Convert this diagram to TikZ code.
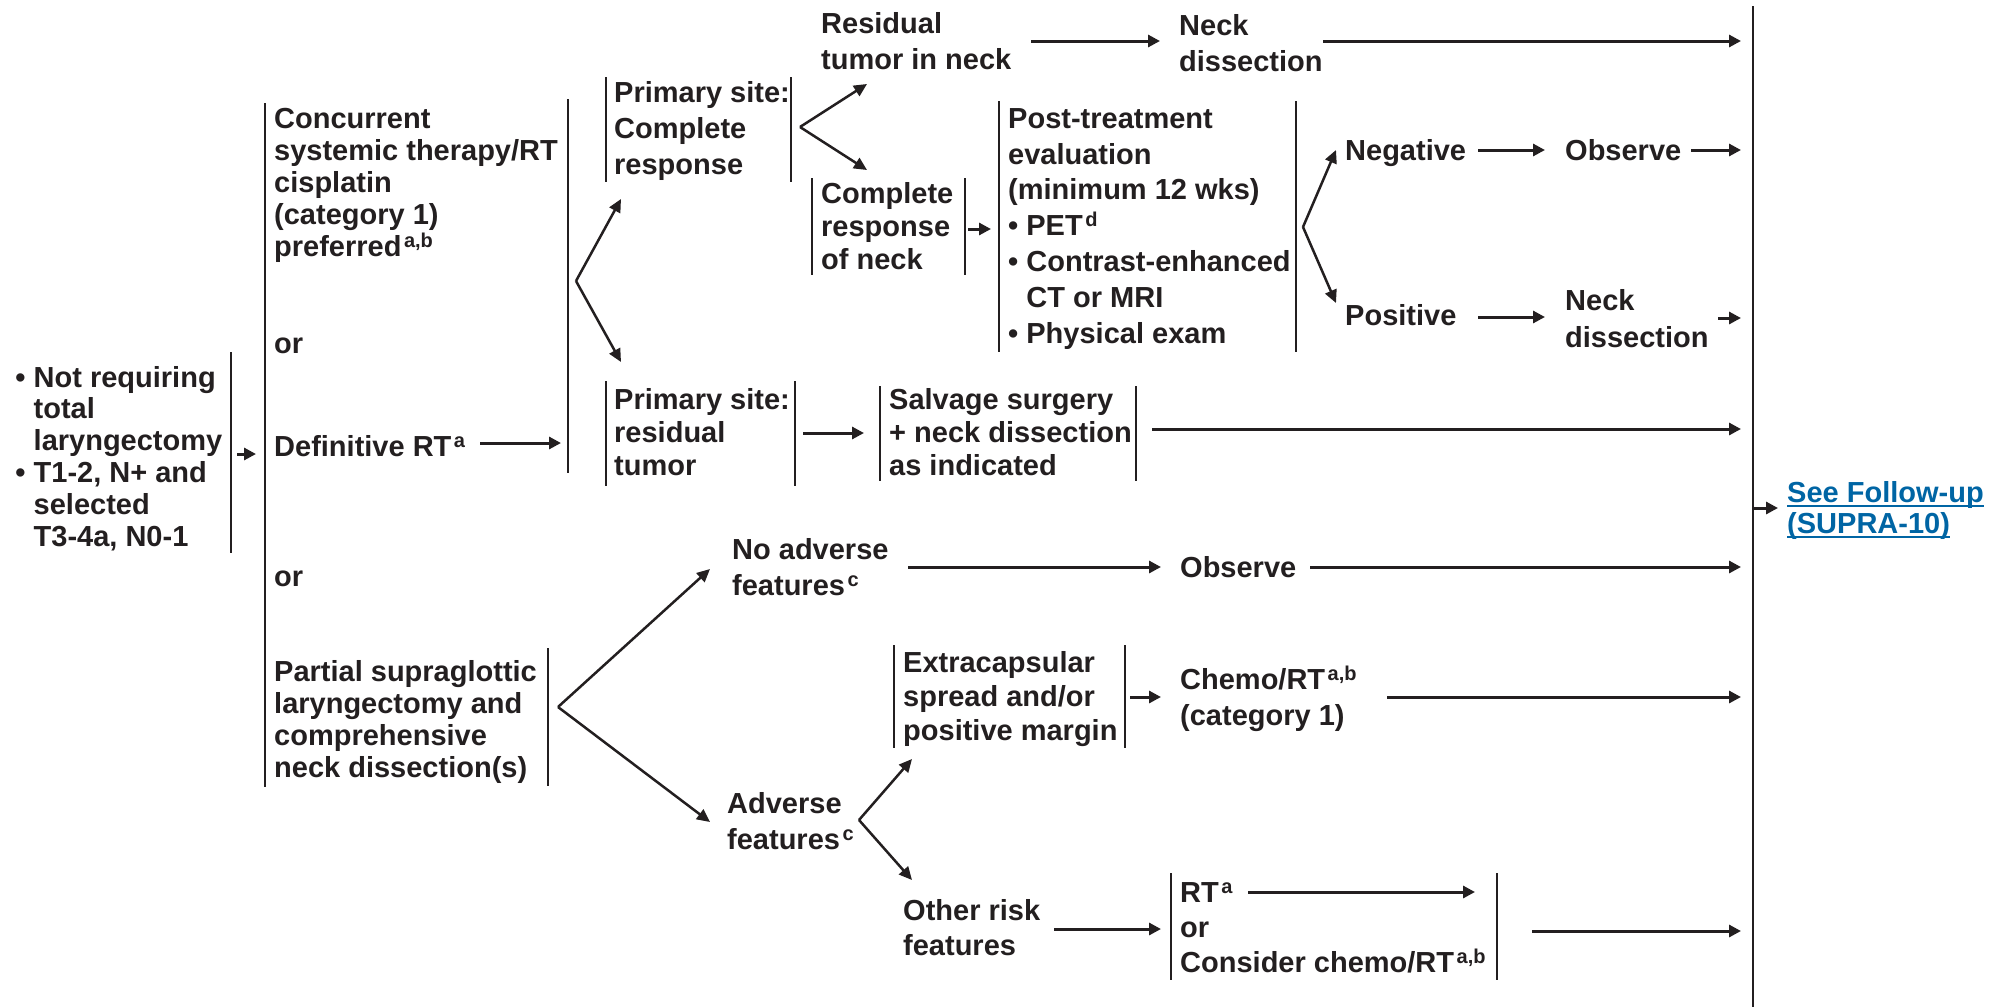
\documentclass[tikz,border=0pt]{standalone}
\usepackage{fontspec}
\setmainfont{Liberation Sans}
\usetikzlibrary{arrows.meta}
\definecolor{ink}{RGB}{35,31,32}
\definecolor{link}{RGB}{0,101,164}
% superscript footnote letters
\newcommand\sps[1]{\hspace{2.5pt}\raisebox{9pt}{\fontsize{20}{20}\selectfont #1}}
% underlined link line
\newsavebox\ulbox
\newcommand\lnk[1]{\sbox\ulbox{#1}\rlap{\rule[-5pt]{\wd\ulbox}{2.3pt}}\usebox\ulbox}
% multi-line labels are placed by the baseline of their last line
\tikzset{
  lbl/.style={font=\bfseries\fontsize{29}{#1}\selectfont, text=ink, align=left,
              inner sep=0pt, anchor=base west},
  lbl/.default=32,
  bar/.style={draw=ink, line width=2.5pt},
  arr/.style={draw=ink, line width=3pt, -{Triangle[length=12pt,width=12pt]}},
  fork/.style={draw=ink, line width=2.5pt, -{Triangle[length=13pt,width=12pt]}},
}
\begin{document}
\begin{tikzpicture}[x=1pt,y=-1pt]
\useasboundingbox (0,0) rectangle (2003,1007);

% ---------- text ----------
\node[lbl=31.8] (start) at (33.5,546) {\llap{• }Not requiring\\total\\laryngectomy\\\llap{• }T1-2, N+ and\\selected\\T3-4a, N0-1};

\node[lbl=32] (conc) at (274,256) {Concurrent\\systemic therapy/RT\\cisplatin\\(category 1)\\preferred\sps{a,b}};
\node[lbl] (or1) at (274,353) {or};
\node[lbl] (defrt) at (274,456) {Definitive RT\sps{a}};
\node[lbl] (or2) at (274,586) {or};
\node[lbl=31.7] (partial) at (274,777) {Partial supraglottic\\laryngectomy and\\comprehensive\\neck dissection(s)};

\node[lbl=36] (ps1) at (614,174) {Primary site:\\Complete\\response};
\node[lbl=36] (resid) at (821,69) {Residual\\tumor in neck};
\node[lbl=36] (nd1) at (1179,71) {Neck\\dissection};
\node[lbl=33] (crneck) at (821,269) {Complete\\response\\of neck};
\node[lbl=35.8] (post) at (1008,343) {Post-treatment\\evaluation\\(minimum 12 wks)\\• PET\sps{d}\\• Contrast-enhanced\\\phantom{• }CT or MRI\\• Physical exam};
\node[lbl] (neg) at (1345,160) {Negative};
\node[lbl] (obs1) at (1565,160) {Observe};
\node[lbl] (pos) at (1345,325) {Positive};
\node[lbl=37] (nd2) at (1565,347) {Neck\\dissection};

\node[lbl=33] (ps2) at (614,475) {Primary site:\\residual\\tumor};
\node[lbl=33] (salv) at (889,475) {Salvage surgery\\+ neck dissection\\as indicated};

\node[lbl=36] (noadv) at (732,595) {No adverse\\features\sps{c}};
\node[lbl] (obs2) at (1180,577) {Observe};
\node[lbl=36] (adv) at (727,849) {Adverse\\features\sps{c}};
\node[lbl=34] (extra) at (903,740) {Extracapsular\\spread and/or\\positive margin};
\node[lbl=36] (chemo) at (1180,725) {Chemo/RT\sps{a,b}\\(category 1)};
\node[lbl=35] (other) at (903,955) {Other risk\\features};
\node[lbl=35] (rtbox) at (1180,972) {RT\sps{a}\\or\\Consider chemo/RT\sps{a,b}};

\node[lbl=31, text=link] (follow) at (1787,533) {\lnk{See Follow-up}\\\lnk{(SUPRA-10)}};

% ---------- bracket bars ----------
\draw[bar] (231,352) -- (231,553);
\draw[bar] (265,103) -- (265,787);
\draw[bar] (568,99) -- (568,473);
\draw[bar] (606,77) -- (606,182);
\draw[bar] (791,77) -- (791,182);
\draw[bar] (812,178) -- (812,275);
\draw[bar] (965,178) -- (965,275);
\draw[bar] (999,101) -- (999,352);
\draw[bar] (1296,101) -- (1296,352);
\draw[bar] (606,381) -- (606,486);
\draw[bar] (795,381) -- (795,486);
\draw[bar] (880,386) -- (880,481);
\draw[bar] (1136,386) -- (1136,481);
\draw[bar] (548,648) -- (548,786);
\draw[bar] (894,645) -- (894,748);
\draw[bar] (1125,645) -- (1125,748);
\draw[bar] (1171,873) -- (1171,980);
\draw[bar] (1497,873) -- (1497,980);
\coordinate (maintop) at (1753,6);
\coordinate (mainbot) at (1753,1007);
\draw[bar] (maintop) -- (mainbot);

% ---------- fork points ----------
\coordinate (f1) at (576,281);
\coordinate (f2) at (800,127);
\coordinate (f3) at (1303,227);
\coordinate (f4) at (558,707);
\coordinate (f5) at (859,820);

% ---------- connectors ----------
\draw[arr] (237,454) -- (256,454);
\draw[arr] (480,443) -- (561,443);
\draw[fork] (f1) -- (621,199);
\draw[fork] (f1) -- (621,362);
\draw[fork] (f2) -- (867,84);
\draw[fork] (f2) -- (867,170);
\draw[arr] (1031,41) -- (1160,41);
\draw[arr] (1323,41) -- (1741,41);
\draw[arr] (968,229) -- (991,229);
\draw[fork] (f3) -- (1336,150);
\draw[fork] (f3) -- (1336,303);
\draw[arr] (1478,150) -- (1545,150);
\draw[arr] (1691,150) -- (1741,150);
\draw[arr] (1478,317) -- (1545,317);
\draw[arr] (1718,318) -- (1741,318);
\draw[arr] (803,433) -- (864,433);
\draw[arr] (1152,429) -- (1741,429);
\draw[arr] (1753,508) -- (1778,508);
\draw[fork] (f4) -- (710,569);
\draw[fork] (f4) -- (710,822);
\draw[arr] (908,567) -- (1161,567);
\draw[arr] (1310,567) -- (1741,567);
\draw[fork] (f5) -- (912,759);
\draw[fork] (f5) -- (912,880);
\draw[arr] (1130,697) -- (1161,697);
\draw[arr] (1387,697) -- (1741,697);
\draw[arr] (1054,929) -- (1161,929);
\draw[arr] (1248,892) -- (1475,892);
\draw[arr] (1532,931) -- (1741,931);
\end{tikzpicture}
\end{document}
